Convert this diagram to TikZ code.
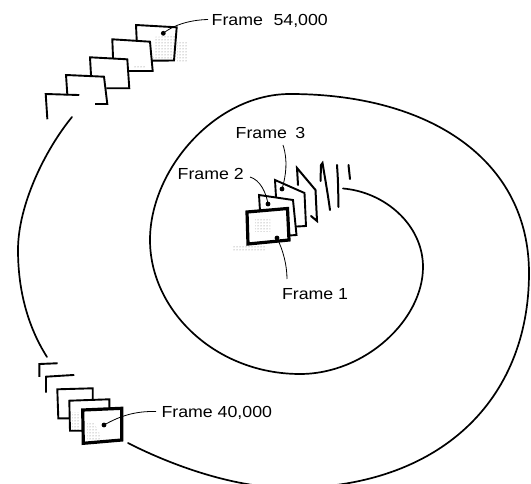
\documentclass[tikz,border=0pt]{standalone}
\usepackage{fontspec}
\setmainfont{Liberation Sans}
\usetikzlibrary{patterns}
\newcommand\framelab[1]{\scalebox{1.11}[1]{\fontsize{16}{16}\selectfont #1}}
\tikzset{
  spiral/.style={line width=1.7pt, line cap=round},
  thinframe/.style={line width=1.9pt, line join=miter, line cap=rect},
  thickframe/.style={line width=3.2pt, line join=miter},
  tickmark/.style={line width=2pt, line cap=round, line join=miter},
  leader/.style={line width=0.8pt},
  dotn/.style={circle, fill=black, inner sep=0pt, minimum size=4.8pt},
  labeln/.style={anchor=base west, inner sep=0pt, outer sep=0pt},
  stipple/.style={pattern=dots, pattern color=black!55}
}
\begin{document}
\begin{tikzpicture}[x=1pt,y=-1pt]
\useasboundingbox (0,0) rectangle (531,484);
\fill[white] (0,0) rectangle (531,484);
\clip (0,0) rectangle (531,484);

% ---------- spiral ----------
\draw[spiral] (343,188.5)
  .. controls (385,192) and (423,225) .. (423,267)
  .. controls (423,320) and (365,374) .. (300,374)
  .. controls (215,374) and (150,310) .. (150,240)
  .. controls (150,170) and (215,94) .. (290,94)
  .. controls (430,94) and (529,160) .. (529,273)
  .. controls (529,400) and (440,488) .. (290,488)
  .. controls (230,488) and (165,462) .. (128,443);
\draw[spiral] (72,117)
  .. controls (45,150) and (18,205) .. (18,250)
  .. controls (18,300) and (33,335) .. (47,357);

% ---------- Frame 54,000 stack ----------
\fill[stipple] (155,37) -- (175,36) -- (174,60) -- (153,60) -- cycle;
\fill[stipple] (177,43) rectangle (187,62);
\fill[stipple] (133,66) rectangle (146,69);
\draw[thinframe] (136.7,40) -- (136,25) -- (176.7,27.3) -- (174,60.5) -- (152.7,60.7);
\draw[thinframe] (113,57) -- (112.3,39.3) -- (150,41.7) -- (152.7,71) -- (130,71);
\draw[thinframe] (91,75) -- (90,57.3) -- (127.3,59.3) -- (129.3,88.3) -- (107.3,88.3);
\draw[thinframe] (67.3,94.3) -- (66,75) -- (104,76.7) -- (107.3,104) -- (96,104);
\draw[thinframe] (47.3,118.3) -- (45.7,94) -- (78.3,95);
\node[dotn] (d54) at (163.3,33.3) {};
\node[labeln] (l54) at (211.7,25.7) {\framelab{Frame\hspace{9.5pt}54,000}};
\coordinate (e54) at (208,19.5);
\draw[leader] (d54.center) .. controls (172,26) and (188,20) .. (e54);

% ---------- Frame 40,000 stack ----------
\fill[stipple] (87,423) -- (95,423) -- (102,440) -- (87,441) -- cycle;
\fill[stipple] (72,412) rectangle (80,430);
\draw[thinframe] (39.3,376) -- (39.3,364) -- (56.7,363.3);
\draw[thinframe] (46,391.7) -- (46,376.7) -- (73.3,375);
\draw[thinframe] (69,418.3) -- (58.3,418.3) -- (57.3,389.3) -- (92.7,388.3) -- (92.7,399.5);
\draw[thinframe] (82.7,430.7) -- (70,430.7) -- (69.3,400.7) -- (109.3,399.3) -- (109.3,409);
\draw[thickframe] (82.7,410) -- (121.7,408.3) -- (121.7,440) -- (83.3,443.3) -- cycle;
\node[dotn] (d40) at (104,425) {};
\node[labeln] (l40) at (161.5,417.3) {\framelab{Frame 40,000}};
\coordinate (e40) at (156,411.5);
\draw[leader] (d40.center) .. controls (120,416) and (135,411) .. (e40);

% ---------- central frames ----------
\fill[stipple] (255,218) rectangle (270,232);
\fill[stipple] (233,247) rectangle (266,252);
\draw[tickmark] (348.5,165) -- (350,179);
\draw[tickmark] (337,165) .. controls (338,180) .. (338.5,207);
\draw[tickmark] (320.5,181) -- (321,165) -- (322.5,163) .. controls (325,178) and (328,195) .. (330,210);
\draw[tickmark] (298,185) -- (297,168) -- (315.5,190) -- (317,221) -- (311,216);
\draw[thinframe] (276,197) -- (275,180) -- (304.5,193) -- (306,226) -- (297,226.5);
\draw[thinframe] (260,211) -- (259,195) -- (293,200) -- (296.5,235) -- (289,235.5);
\draw[thickframe] (247,212) -- (287.5,208.5) -- (289,240) -- (248,244) -- cycle;

\node[dotn] (d1) at (277,238) {};
\node[dotn] (d2) at (268,204) {};
\node[dotn] (d3) at (282,189) {};

\node[labeln] (l3) at (235.7,138.3) {\framelab{Frame\hspace{7.5pt}3}};
\node[labeln] (l2) at (177.7,180) {\framelab{Frame 2}};
\node[labeln] (l1) at (282,299.3) {\framelab{Frame 1}};

\coordinate (e3) at (283,145);
\coordinate (e2) at (250,177);
\coordinate (e1) at (287,279);
\draw[leader] (e3) .. controls (288,160) and (286,176) .. (d3.center);
\draw[leader] (e2) .. controls (260,180) and (266,192) .. (d2.center);
\draw[leader] (d1.center) .. controls (283,250) and (287,265) .. (e1);
\end{tikzpicture}
\end{document}
